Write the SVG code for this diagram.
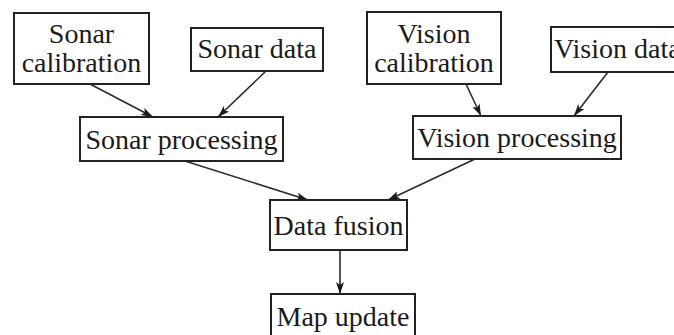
<svg xmlns="http://www.w3.org/2000/svg" width="674" height="335" viewBox="0 0 674 335">
  <defs>
    <style>
      .box { fill: #ffffff; stroke: #222222; stroke-width: 2; }
      .lbl { font-family: "Liberation Serif", "Times New Roman", serif; font-size: 28px; fill: #1a1a1a; text-anchor: middle; }
      .edge { stroke: #2a2a2a; stroke-width: 1.6; fill: none; marker-end: url(#arrow); }
    </style>
    <marker id="arrow" viewBox="0 0 12 8" refX="12" refY="4" markerWidth="12" markerHeight="8" markerUnits="userSpaceOnUse" orient="auto">
      <path d="M0,0 L12,4 L0,8 L3,4 Z" fill="#1a1a1a"/>
    </marker>
  </defs>
  <rect width="674" height="335" fill="#ffffff"/>

  <g id="edges">
    <line class="edge" x1="90" y1="84" x2="153" y2="117"/>
    <line class="edge" x1="266" y1="71" x2="218" y2="117"/>
    <line class="edge" x1="466" y1="84" x2="481" y2="116"/>
    <line class="edge" x1="608" y1="72" x2="574" y2="116"/>
    <line class="edge" x1="185" y1="161" x2="308" y2="200"/>
    <line class="edge" x1="475" y1="159" x2="388" y2="200"/>
    <line class="edge" x1="340" y1="250" x2="340" y2="294"/>
  </g>

  <g id="sonar-calibration">
    <rect class="box" x="14" y="13" width="135" height="71"/>
    <text class="lbl" x="81.5" y="43">Sonar</text>
    <text class="lbl" x="81.5" y="72">calibration</text>
  </g>
  <g id="sonar-data">
    <rect class="box" x="191" y="28" width="132" height="43"/>
    <text class="lbl" x="257" y="58">Sonar data</text>
  </g>
  <g id="vision-calibration">
    <rect class="box" x="367" y="12" width="134" height="72"/>
    <text class="lbl" x="434" y="43">Vision</text>
    <text class="lbl" x="434" y="72">calibration</text>
  </g>
  <g id="vision-data">
    <rect class="box" x="551" y="27" width="130" height="45"/>
    <text class="lbl" x="554" y="58" style="text-anchor:start">Vision data</text>
  </g>
  <g id="sonar-processing">
    <rect class="box" x="80" y="117" width="203" height="44"/>
    <text class="lbl" x="181.5" y="149">Sonar processing</text>
  </g>
  <g id="vision-processing">
    <rect class="box" x="413" y="116" width="208" height="43"/>
    <text class="lbl" x="517" y="147">Vision processing</text>
  </g>
  <g id="data-fusion">
    <rect class="box" x="270" y="200" width="137" height="50"/>
    <text class="lbl" x="338.5" y="235">Data fusion</text>
  </g>
  <g id="map-update">
    <rect class="box" x="271" y="294" width="144" height="50"/>
    <text class="lbl" x="343" y="326">Map update</text>
  </g>
</svg>
